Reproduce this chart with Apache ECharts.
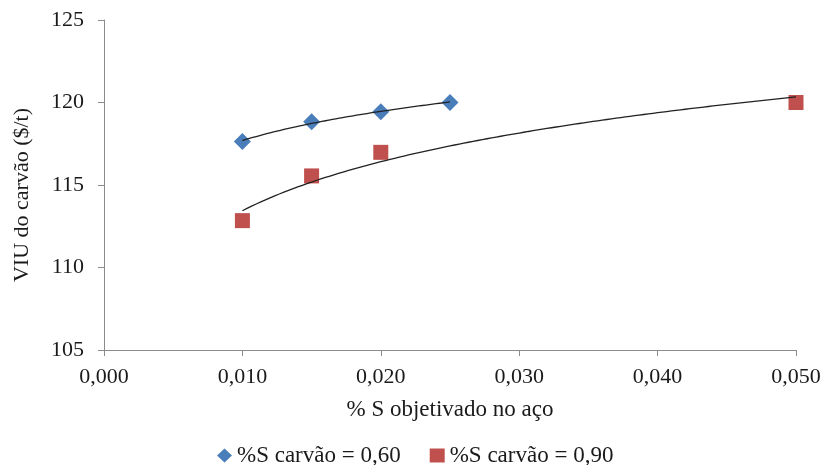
<!DOCTYPE html>
<html>
<head>
<meta charset="utf-8">
<script src="https://cdn.jsdelivr.net/npm/echarts@6/dist/echarts.min.js"></script>
<style>
  html, body { margin: 0; padding: 0; background: #fff; }
  #chart { width: 824px; height: 465px; }
</style>
</head>
<body>
<div id="chart"></div>
<script>
// % S target in steel (x) and coal in-use value VIU ($/t) (y)
const xS060 = [0.010, 0.015, 0.020, 0.025];
const yS060 = [117.64, 118.84, 119.44, 120.00];
const xS090 = [0.010, 0.015, 0.020, 0.050];
const yS090 = [112.84, 115.55, 116.98, 120.00];
const seriesNames = ['%S carvão = 0,60', '%S carvão = 0,90'];
const xTicks = [0, 0.01, 0.02, 0.03, 0.04, 0.05];
const yTicks = [105, 110, 115, 120, 125];

// Least-squares logarithmic trend  y = a + b·ln(x), sampled between the first and last x
function logTrend(xs, ys, samples) {
  const lx = xs.map(Math.log);
  const n = xs.length;
  const mx = lx.reduce((s, v) => s + v, 0) / n;
  const my = ys.reduce((s, v) => s + v, 0) / n;
  let sxy = 0, sxx = 0;
  for (let i = 0; i < n; i++) {
    sxy += (lx[i] - mx) * (ys[i] - my);
    sxx += (lx[i] - mx) * (lx[i] - mx);
  }
  const b = sxy / sxx, a = my - b * mx;
  const x0 = Math.min(...xs), x1 = Math.max(...xs);
  const pts = [];
  for (let k = 0; k <= samples; k++) {
    const x = x0 + (x1 - x0) * k / samples;
    pts.push([x, a + b * Math.log(x)]);
  }
  return pts;
}

const pair = (xs, ys) => xs.map((x, i) => [x, ys[i]]);
const font = 'Liberation Serif';
const axisColor = '#8c8c8c';
const textColor = '#1a1a1a';

const chart = echarts.init(document.getElementById('chart'), null, { renderer: 'canvas' });
chart.setOption({
  animation: false,
  backgroundColor: '#ffffff',
  textStyle: { fontFamily: font },
  grid: { left: 104, right: 28, top: 20, bottom: 115, containLabel: false },
  legend: {
    data: [
      { name: seriesNames[0], icon: 'diamond' },
      { name: seriesNames[1], icon: 'rect' }
    ],
    left: 217,
    top: 444,
    padding: 0,
    itemWidth: 15,
    itemHeight: 14,
    itemGap: 29,
    textStyle: { fontFamily: font, fontSize: 23, color: textColor }
  },
  xAxis: {
    type: 'value',
    min: xTicks[0],
    max: xTicks[xTicks.length - 1],
    interval: 0.01,
    name: '% S objetivado no aço',
    nameLocation: 'middle',
    nameGap: 48,
    nameTextStyle: { fontFamily: font, fontSize: 23, color: textColor },
    axisLine: { show: true, lineStyle: { color: axisColor, width: 1 } },
    axisTick: { show: true, length: 6, lineStyle: { color: axisColor } },
    splitLine: { show: false },
    axisLabel: {
      fontFamily: font, fontSize: 22, color: textColor, margin: 16,
      formatter: v => v.toFixed(3).replace('.', ',')
    }
  },
  yAxis: {
    type: 'value',
    min: yTicks[0],
    max: yTicks[yTicks.length - 1],
    interval: 5,
    name: 'VIU do carvão ($/t)',
    nameLocation: 'middle',
    nameGap: 71,
    nameRotate: 90,
    nameTextStyle: { fontFamily: font, fontSize: 22, color: textColor, padding: [0, 20, 0, 0] },
    axisLine: { show: true, lineStyle: { color: axisColor, width: 1 } },
    axisTick: { show: true, length: 6, lineStyle: { color: axisColor } },
    splitLine: { show: false },
    axisLabel: { fontFamily: font, fontSize: 22, color: textColor, margin: 20 }
  },
  series: [
    {
      name: seriesNames[0],
      type: 'scatter',
      symbol: 'diamond',
      symbolSize: 17,
      itemStyle: { color: '#4a7ebb', opacity: 1 },
      data: pair(xS060, yS060),
      z: 3
    },
    {
      name: seriesNames[1],
      type: 'scatter',
      symbol: 'rect',
      symbolSize: 15,
      itemStyle: { color: '#c0504d', opacity: 1 },
      data: pair(xS090, yS090),
      z: 3
    },
    {
      name: 'trend060',
      type: 'line',
      showSymbol: false,
      silent: true,
      lineStyle: { color: '#222', width: 1.3 },
      data: logTrend(xS060, yS060, 60),
      z: 4
    },
    {
      name: 'trend090',
      type: 'line',
      showSymbol: false,
      silent: true,
      lineStyle: { color: '#222', width: 1.3 },
      data: logTrend(xS090, yS090, 120),
      z: 4
    }
  ]
});
</script>
</body>
</html>
